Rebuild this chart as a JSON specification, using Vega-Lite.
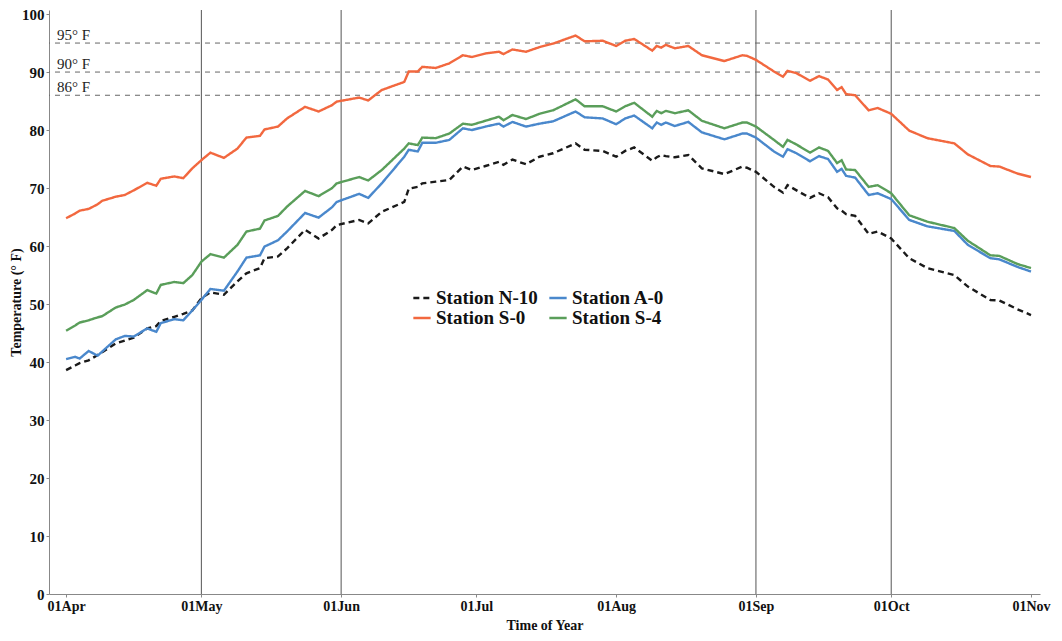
{
  "$schema": "https://vega.github.io/schema/vega-lite/v6.json",
  "width": 991,
  "height": 584,
  "autosize": {"type": "none"},
  "padding": {"left": 49, "top": 10, "right": 22, "bottom": 47},
  "background": "white",
  "config": {
    "view": {"stroke": null},
    "font": "Liberation Serif",
    "axis": {"grid": false, "labelFont": "Liberation Serif", "titleFont": "Liberation Serif", "labelFontWeight": "bold", "titleFontWeight": "bold", "labelColor": "#111", "titleColor": "#111", "domainColor": "#888", "tickColor": "#888"},
    "legend": {"labelFont": "Liberation Serif", "labelFontWeight": "bold", "labelFontSize": 19, "labelColor": "#111", "rowPadding": -6}
  },
  "datasets": {
    "temps": [
      {"d": "2013-04-01", "Station N-10": 38.6, "Station A-0": 40.5, "Station S-0": 64.8, "Station S-4": 45.4},
      {"d": "2013-04-03", "Station N-10": 39.4, "Station A-0": 40.9, "Station S-0": 65.6, "Station S-4": 46.3},
      {"d": "2013-04-04", "Station N-10": 39.8, "Station A-0": 40.6, "Station S-0": 66.1, "Station S-4": 46.8},
      {"d": "2013-04-06", "Station N-10": 40.3, "Station A-0": 41.9, "Station S-0": 66.4, "Station S-4": 47.2},
      {"d": "2013-04-08", "Station N-10": 41.2, "Station A-0": 41.1, "Station S-0": 67.2, "Station S-4": 47.7},
      {"d": "2013-04-09", "Station N-10": 41.7, "Station A-0": 41.8, "Station S-0": 67.8, "Station S-4": 47.9},
      {"d": "2013-04-12", "Station N-10": 43.2, "Station A-0": 43.9, "Station S-0": 68.5, "Station S-4": 49.4},
      {"d": "2013-04-14", "Station N-10": 43.7, "Station A-0": 44.5, "Station S-0": 68.8, "Station S-4": 49.9},
      {"d": "2013-04-16", "Station N-10": 44.2, "Station A-0": 44.4, "Station S-0": 69.6, "Station S-4": 50.7},
      {"d": "2013-04-19", "Station N-10": 45.8, "Station A-0": 45.8, "Station S-0": 70.9, "Station S-4": 52.4},
      {"d": "2013-04-21", "Station N-10": 46.2, "Station A-0": 45.2, "Station S-0": 70.4, "Station S-4": 51.8},
      {"d": "2013-04-22", "Station N-10": 47.1, "Station A-0": 46.7, "Station S-0": 71.6, "Station S-4": 53.3},
      {"d": "2013-04-25", "Station N-10": 47.8, "Station A-0": 47.4, "Station S-0": 72.0, "Station S-4": 53.8},
      {"d": "2013-04-27", "Station N-10": 48.3, "Station A-0": 47.2, "Station S-0": 71.7, "Station S-4": 53.6},
      {"d": "2013-04-29", "Station N-10": 48.9, "Station A-0": 48.9, "Station S-0": 73.4, "Station S-4": 55.0},
      {"d": "2013-05-01", "Station N-10": 51.0, "Station A-0": 50.7, "Station S-0": 74.8, "Station S-4": 57.3},
      {"d": "2013-05-03", "Station N-10": 52.0, "Station A-0": 52.6, "Station S-0": 76.1, "Station S-4": 58.6},
      {"d": "2013-05-06", "Station N-10": 51.6, "Station A-0": 52.3, "Station S-0": 75.2, "Station S-4": 58.0},
      {"d": "2013-05-09", "Station N-10": 53.9, "Station A-0": 55.6, "Station S-0": 76.8, "Station S-4": 60.2},
      {"d": "2013-05-11", "Station N-10": 55.3, "Station A-0": 58.0, "Station S-0": 78.7, "Station S-4": 62.5},
      {"d": "2013-05-14", "Station N-10": 56.2, "Station A-0": 58.4, "Station S-0": 79.0, "Station S-4": 63.0},
      {"d": "2013-05-15", "Station N-10": 57.9, "Station A-0": 59.9, "Station S-0": 80.1, "Station S-4": 64.4},
      {"d": "2013-05-18", "Station N-10": 58.2, "Station A-0": 61.0, "Station S-0": 80.6, "Station S-4": 65.2},
      {"d": "2013-05-20", "Station N-10": 59.6, "Station A-0": 62.5, "Station S-0": 82.0, "Station S-4": 66.8},
      {"d": "2013-05-24", "Station N-10": 62.8, "Station A-0": 65.7, "Station S-0": 84.0, "Station S-4": 69.5},
      {"d": "2013-05-27", "Station N-10": 61.3, "Station A-0": 64.9, "Station S-0": 83.2, "Station S-4": 68.6},
      {"d": "2013-05-30", "Station N-10": 62.8, "Station A-0": 66.7, "Station S-0": 84.3, "Station S-4": 70.0},
      {"d": "2013-05-31", "Station N-10": 63.6, "Station A-0": 67.6, "Station S-0": 84.9, "Station S-4": 70.8},
      {"d": "2013-06-05", "Station N-10": 64.5, "Station A-0": 69.0, "Station S-0": 85.6, "Station S-4": 71.9},
      {"d": "2013-06-07", "Station N-10": 63.9, "Station A-0": 68.3, "Station S-0": 85.1, "Station S-4": 71.3},
      {"d": "2013-06-10", "Station N-10": 65.9, "Station A-0": 70.8, "Station S-0": 86.9, "Station S-4": 73.1},
      {"d": "2013-06-15", "Station N-10": 67.6, "Station A-0": 75.4, "Station S-0": 88.3, "Station S-4": 76.8},
      {"d": "2013-06-16", "Station N-10": 69.9, "Station A-0": 76.6, "Station S-0": 90.1, "Station S-4": 77.7},
      {"d": "2013-06-18", "Station N-10": 70.2, "Station A-0": 76.3, "Station S-0": 90.1, "Station S-4": 77.4},
      {"d": "2013-06-19", "Station N-10": 70.8, "Station A-0": 77.8, "Station S-0": 90.9, "Station S-4": 78.7},
      {"d": "2013-06-22", "Station N-10": 71.1, "Station A-0": 77.8, "Station S-0": 90.7, "Station S-4": 78.6},
      {"d": "2013-06-25", "Station N-10": 71.4, "Station A-0": 78.3, "Station S-0": 91.5, "Station S-4": 79.4},
      {"d": "2013-06-28", "Station N-10": 73.7, "Station A-0": 80.3, "Station S-0": 92.9, "Station S-4": 81.1},
      {"d": "2013-06-30", "Station N-10": 73.1, "Station A-0": 80.0, "Station S-0": 92.6, "Station S-4": 80.9},
      {"d": "2013-07-03", "Station N-10": 73.8, "Station A-0": 80.6, "Station S-0": 93.2, "Station S-4": 81.6},
      {"d": "2013-07-06", "Station N-10": 74.5, "Station A-0": 81.1, "Station S-0": 93.5, "Station S-4": 82.3},
      {"d": "2013-07-07", "Station N-10": 74.0, "Station A-0": 80.6, "Station S-0": 93.1, "Station S-4": 81.7},
      {"d": "2013-07-09", "Station N-10": 74.9, "Station A-0": 81.4, "Station S-0": 93.9, "Station S-4": 82.6},
      {"d": "2013-07-12", "Station N-10": 74.1, "Station A-0": 80.6, "Station S-0": 93.5, "Station S-4": 81.9},
      {"d": "2013-07-15", "Station N-10": 75.4, "Station A-0": 81.1, "Station S-0": 94.3, "Station S-4": 82.8},
      {"d": "2013-07-18", "Station N-10": 76.0, "Station A-0": 81.5, "Station S-0": 94.9, "Station S-4": 83.4},
      {"d": "2013-07-23", "Station N-10": 77.7, "Station A-0": 83.2, "Station S-0": 96.3, "Station S-4": 85.3},
      {"d": "2013-07-25", "Station N-10": 76.6, "Station A-0": 82.2, "Station S-0": 95.3, "Station S-4": 84.1},
      {"d": "2013-07-29", "Station N-10": 76.4, "Station A-0": 82.0, "Station S-0": 95.4, "Station S-4": 84.1},
      {"d": "2013-08-01", "Station N-10": 75.4, "Station A-0": 81.0, "Station S-0": 94.5, "Station S-4": 83.2},
      {"d": "2013-08-03", "Station N-10": 76.4, "Station A-0": 82.0, "Station S-0": 95.4, "Station S-4": 84.1},
      {"d": "2013-08-05", "Station N-10": 77.0, "Station A-0": 82.5, "Station S-0": 95.7, "Station S-4": 84.7},
      {"d": "2013-08-09", "Station N-10": 74.7, "Station A-0": 80.3, "Station S-0": 93.7, "Station S-4": 82.3},
      {"d": "2013-08-10", "Station N-10": 75.3, "Station A-0": 81.3, "Station S-0": 94.5, "Station S-4": 83.3},
      {"d": "2013-08-11", "Station N-10": 75.7, "Station A-0": 80.9, "Station S-0": 94.2, "Station S-4": 82.9},
      {"d": "2013-08-12", "Station N-10": 75.5, "Station A-0": 81.3, "Station S-0": 94.7, "Station S-4": 83.3},
      {"d": "2013-08-14", "Station N-10": 75.3, "Station A-0": 80.7, "Station S-0": 94.1, "Station S-4": 82.9},
      {"d": "2013-08-17", "Station N-10": 75.7, "Station A-0": 81.4, "Station S-0": 94.5, "Station S-4": 83.4},
      {"d": "2013-08-20", "Station N-10": 73.4, "Station A-0": 79.6, "Station S-0": 92.9, "Station S-4": 81.6},
      {"d": "2013-08-25", "Station N-10": 72.4, "Station A-0": 78.4, "Station S-0": 91.9, "Station S-4": 80.3},
      {"d": "2013-08-29", "Station N-10": 73.7, "Station A-0": 79.4, "Station S-0": 92.9, "Station S-4": 81.3},
      {"d": "2013-08-30", "Station N-10": 73.5, "Station A-0": 79.4, "Station S-0": 92.8, "Station S-4": 81.3},
      {"d": "2013-09-01", "Station N-10": 72.8, "Station A-0": 78.7, "Station S-0": 92.1, "Station S-4": 80.6},
      {"d": "2013-09-05", "Station N-10": 70.2, "Station A-0": 76.3, "Station S-0": 90.1, "Station S-4": 78.3},
      {"d": "2013-09-07", "Station N-10": 69.2, "Station A-0": 75.4, "Station S-0": 89.2, "Station S-4": 77.1},
      {"d": "2013-09-08", "Station N-10": 70.5, "Station A-0": 76.7, "Station S-0": 90.2, "Station S-4": 78.3},
      {"d": "2013-09-10", "Station N-10": 69.6, "Station A-0": 76.0, "Station S-0": 89.8, "Station S-4": 77.5},
      {"d": "2013-09-13", "Station N-10": 68.3, "Station A-0": 74.6, "Station S-0": 88.5, "Station S-4": 76.1},
      {"d": "2013-09-15", "Station N-10": 69.1, "Station A-0": 75.5, "Station S-0": 89.3, "Station S-4": 77.0},
      {"d": "2013-09-17", "Station N-10": 68.4, "Station A-0": 75.0, "Station S-0": 88.7, "Station S-4": 76.4},
      {"d": "2013-09-19", "Station N-10": 66.5, "Station A-0": 72.8, "Station S-0": 86.9, "Station S-4": 74.3},
      {"d": "2013-09-20", "Station N-10": 66.1, "Station A-0": 73.3, "Station S-0": 87.4, "Station S-4": 74.8},
      {"d": "2013-09-21", "Station N-10": 65.5, "Station A-0": 72.1, "Station S-0": 86.2, "Station S-4": 73.2},
      {"d": "2013-09-23", "Station N-10": 65.2, "Station A-0": 71.8, "Station S-0": 86.0, "Station S-4": 73.1},
      {"d": "2013-09-26", "Station N-10": 62.1, "Station A-0": 68.8, "Station S-0": 83.4, "Station S-4": 70.2},
      {"d": "2013-09-28", "Station N-10": 62.5, "Station A-0": 69.1, "Station S-0": 83.8, "Station S-4": 70.5},
      {"d": "2013-10-01", "Station N-10": 61.3, "Station A-0": 68.1, "Station S-0": 82.8, "Station S-4": 69.1},
      {"d": "2013-10-05", "Station N-10": 57.9, "Station A-0": 64.5, "Station S-0": 79.9, "Station S-4": 65.3},
      {"d": "2013-10-09", "Station N-10": 56.2, "Station A-0": 63.4, "Station S-0": 78.6, "Station S-4": 64.2},
      {"d": "2013-10-15", "Station N-10": 55.0, "Station A-0": 62.6, "Station S-0": 77.7, "Station S-4": 63.1},
      {"d": "2013-10-18", "Station N-10": 53.0, "Station A-0": 60.2, "Station S-0": 75.8, "Station S-4": 60.9},
      {"d": "2013-10-23", "Station N-10": 50.7, "Station A-0": 57.9, "Station S-0": 73.8, "Station S-4": 58.4},
      {"d": "2013-10-25", "Station N-10": 50.6, "Station A-0": 57.7, "Station S-0": 73.7, "Station S-4": 58.3},
      {"d": "2013-10-29", "Station N-10": 49.1, "Station A-0": 56.4, "Station S-0": 72.5, "Station S-4": 56.9},
      {"d": "2013-11-01", "Station N-10": 48.1, "Station A-0": 55.6, "Station S-0": 71.9, "Station S-4": 56.2}
    ],
    "months": [
      {"d": "2013-05-01"}, {"d": "2013-06-01"}, {"d": "2013-09-01"}, {"d": "2013-10-01"}
    ],
    "thresholds": [
      {"t": 95, "label": "95° F"},
      {"t": 90, "label": "90° F"},
      {"t": 86, "label": "86° F"}
    ]
  },
  "layer": [
    {
      "data": {"name": "months"},
      "mark": {"type": "rule", "color": "#555", "strokeWidth": 1},
      "encoding": {
        "x": {
          "field": "d", "type": "temporal", "title": "Time of Year",
          "scale": {"type": "utc", "domain": [{"year": 2013, "month": 3, "date": 28, "hours": 5, "utc": true}, {"year": 2013, "month": 11, "date": 3, "utc": true}]},
          "axis": {"labelExpr": "utcFormat(datum.value, '%d%b')", "tickCount": {"interval": "month", "step": 1}, "labelFontSize": 14, "labelPadding": 2, "tickSize": 3, "titleFontSize": 14, "titlePadding": 5, "labelFlush": false, "labelOverlap": false}
        }
      }
    },
    {
      "data": {"name": "thresholds"},
      "mark": {"type": "rule", "color": "#666", "strokeWidth": 1, "strokeDash": [5, 5]},
      "encoding": {
        "y": {
          "field": "t", "type": "quantitative", "title": "Temperature (° F)",
          "scale": {"domain": [0, 100.7], "nice": false},
          "axis": {"values": [0, 10, 20, 30, 40, 50, 60, 70, 80, 90, 100], "labelFontSize": 15, "labelPadding": 2, "tickSize": 3, "titleFontSize": 14, "titlePadding": -2}
        }
      }
    },
    {
      "data": {"name": "thresholds"},
      "mark": {"type": "text", "align": "left", "baseline": "alphabetic", "dy": -3, "fontSize": 15, "font": "Liberation Serif", "color": "#222"},
      "encoding": {
        "x": {"datum": {"year": 2013, "month": 3, "date": 30, "utc": true}, "type": "temporal"},
        "y": {"field": "t", "type": "quantitative"},
        "text": {"field": "label"}
      }
    },
    {
      "data": {"name": "temps"},
      "transform": [
        {"fold": ["Station N-10", "Station A-0", "Station S-0", "Station S-4"], "as": ["station", "temp"]}
      ],
      "mark": {"type": "line", "strokeWidth": 2.4},
      "encoding": {
        "x": {
          "field": "d", "type": "temporal", "title": "Time of Year",
          "axis": {"labelExpr": "utcFormat(datum.value, '%d%b')", "tickCount": {"interval": "month", "step": 1}, "labelFontSize": 14, "labelPadding": 2, "tickSize": 3, "titleFontSize": 14, "titlePadding": 5, "labelFlush": false, "labelOverlap": false}
        },
        "y": {
          "field": "temp", "type": "quantitative", "title": "Temperature (° F)",
          "axis": {"values": [0, 10, 20, 30, 40, 50, 60, 70, 80, 90, 100], "labelFontSize": 15, "labelPadding": 2, "tickSize": 3, "titleFontSize": 14, "titlePadding": -2}
        },
        "color": {
          "field": "station", "type": "nominal", "title": null,
          "scale": {"domain": ["Station N-10", "Station A-0", "Station S-0", "Station S-4"], "range": ["#1a1a1a", "#4a88cc", "#f2683f", "#5a9e5a"]},
          "legend": {"orient": "none", "direction": "horizontal", "legendX": 363, "legendY": 278, "columns": 2, "symbolType": "stroke", "symbolSize": 300, "symbolStrokeWidth": 2.4, "labelOffset": 4, "columnPadding": 6, "rowPadding": -6, "padding": 0}
        },
        "strokeDash": {
          "field": "station", "type": "nominal", "title": null,
          "scale": {"domain": ["Station N-10", "Station A-0", "Station S-0", "Station S-4"], "range": [[6, 4], [1, 0], [1, 0], [1, 0]]}
        }
      }
    }
  ]
}
